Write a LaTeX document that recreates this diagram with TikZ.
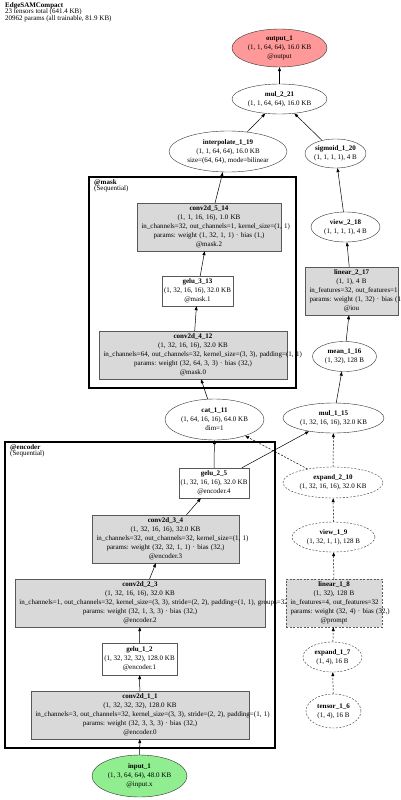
\documentclass[tikz,border=0pt]{standalone}
\usepackage{fontspec}
\setmainfont{Liberation Serif}
\usetikzlibrary{arrows.meta,positioning,shapes.geometric}
\frenchspacing

\definecolor{outred}{RGB}{255,153,153}
\definecolor{ingreen}{RGB}{144,238,144}

% a text line that is wider than its box: starts at the left edge
\newcommand\wideline[1]{\makebox[\hsize][l]{#1}}

\tikzset{
  every node/.style={font=\fontsize{7}{9}\selectfont, align=center},
  layer/.style={rectangle, draw=black!65, fill=black!15, minimum height=48pt, inner xsep=4.5pt, inner ysep=0pt},
  act/.style={rectangle, draw=black!65, fill=white, minimum height=30pt, inner sep=1.5pt},
  op/.style={ellipse, draw=black!80, fill=white, inner sep=0pt},
  aux/.style={dash pattern=on 2pt off 1.5pt},
  module/.style={draw, line width=2.5pt},
  link/.style={-{Triangle[length=4pt,width=3pt]}, line width=0.5pt},
  modlabel/.style={anchor=north west, align=left, inner sep=0pt, font=\fontsize{7}{6.8}\selectfont}
}

\begin{document}
\begin{tikzpicture}[x=1pt,y=-1pt]
\path[use as bounding box, clip] (0,0) rectangle (400,800);

\node[modlabel] (title) at (5,2) {\textbf{EdgeSAMCompact}\\23 tensors total (641.4 KB)\\20962 params (all trainable, 81.9 KB)};

% modules
\draw[module] (89,177) rectangle (296,388);
\node[modlabel] (mask) at (94,179) {\textbf{@mask}\\(Sequential)};
\draw[module] (5,442) rectangle (275,748);
\node[modlabel] (encoder) at (10,444) {\textbf{@encoder}\\(Sequential)};

% head
\node[op, fill=outred, minimum width=95pt, minimum height=38pt] (output_1) at (279.5,48) {\textbf{output\_1}\\(1, 1, 64, 64), 16.0 KB\\@output};
\node[op, minimum width=95pt, minimum height=30pt] (mul_2_21) at (279.5,99) {\textbf{mul\_2\_21}\\(1, 1, 64, 64), 16.0 KB};
\node[op, minimum width=118pt, minimum height=41pt] (interpolate_1_19) at (228,151.5) {\textbf{interpolate\_1\_19}\\(1, 1, 64, 64), 16.0 KB\\size=(64, 64), mode=bilinear};
\node[op, minimum width=61pt, minimum height=29pt] (sigmoid_1_20) at (335.5,153.5) {\textbf{sigmoid\_1\_20}\\(1, 1, 1, 1), 4 B};
\node[op, minimum width=69pt, minimum height=30pt] (view_2_18) at (345.5,227) {\textbf{view\_2\_18}\\(1, 1, 1, 1), 4 B};
\node[layer, text width=84pt] (linear_2_17) at (351.5,291) {\textbf{linear\_2\_17}\\(1, 1), 4 B\\\wideline{in\_features=32, out\_features=1}\\\wideline{params: weight (1, 32) · bias (1,)}\\@iou};
\node[op, minimum width=64pt, minimum height=30pt] (mean_1_16) at (344.5,356.5) {\textbf{mean\_1\_16}\\(1, 32), 128 B};
\node[op, minimum width=101pt, minimum height=30pt] (mul_1_15) at (333.5,418) {\textbf{mul\_1\_15}\\(1, 32, 16, 16), 32.0 KB};

% mask
\node[layer, text width=135pt] (conv2d_5_14) at (209,227) {\textbf{conv2d\_5\_14}\\(1, 1, 16, 16), 1.0 KB\\\wideline{in\_channels=32, out\_channels=1, kernel\_size=(1, 1)}\\params: weight (1, 32, 1, 1) · bias (1,)\\@mask.2};
\node[act, minimum width=71pt] (gelu_3_13) at (197.5,291) {\textbf{gelu\_3\_13}\\(1, 32, 16, 16), 32.0 KB\\@mask.1};
\node[layer, text width=179pt] (conv2d_4_12) at (193,355) {\textbf{conv2d\_4\_12}\\(1, 32, 16, 16), 32.0 KB\\\wideline{in\_channels=64, out\_channels=32, kernel\_size=(3, 3), padding=(1, 1)}\\params: weight (32, 64, 3, 3) · bias (32,)\\@mask.0};
\node[op, minimum width=99pt, minimum height=41pt] (cat_1_11) at (214.5,419.5) {\textbf{cat\_1\_11}\\(1, 64, 16, 16), 64.0 KB\\dim=1};

% encoder
\node[act, minimum width=70pt] (gelu_2_5) at (214,483) {\textbf{gelu\_2\_5}\\(1, 32, 16, 16), 32.0 KB\\@encoder.4};
\node[layer, text width=138pt] (conv2d_3_4) at (165.5,539) {\textbf{conv2d\_3\_4}\\(1, 32, 16, 16), 32.0 KB\\\wideline{in\_channels=32, out\_channels=32, kernel\_size=(1, 1)}\\params: weight (32, 32, 1, 1) · bias (32,)\\@encoder.3};
\node[layer, text width=241pt] (conv2d_2_3) at (140,603) {\textbf{conv2d\_2\_3}\\(1, 32, 16, 16), 32.0 KB\\\wideline{in\_channels=1, out\_channels=32, kernel\_size=(3, 3), stride=(2, 2), padding=(1, 1), groups=32}\\params: weight (32, 1, 3, 3) · bias (32,)\\@encoder.2};
\node[act, minimum width=75pt, minimum height=32pt] (gelu_1_2) at (139.5,659) {\textbf{gelu\_1\_2}\\(1, 32, 32, 32), 128.0 KB\\@encoder.1};
\node[layer, text width=209pt] (conv2d_1_1) at (140,715) {\textbf{conv2d\_1\_1}\\(1, 32, 32, 32), 128.0 KB\\\wideline{in\_channels=3, out\_channels=32, kernel\_size=(3, 3), stride=(2, 2), padding=(1, 1)}\\params: weight (32, 3, 3, 3) · bias (32,)\\@encoder.0};
\node[op, fill=ingreen, minimum width=95pt, minimum height=42pt] (input_1) at (139.5,776) {\textbf{input\_1}\\(1, 3, 64, 64), 48.0 KB\\@input.x};

% prompt branch
\node[op, aux, minimum width=100pt, minimum height=31pt] (expand_2_10) at (333,482.5) {\textbf{expand\_2\_10}\\(1, 32, 16, 16), 32.0 KB};
\node[op, aux, minimum width=83pt, minimum height=30pt] (view_1_9) at (333.5,537) {\textbf{view\_1\_9}\\(1, 32, 1, 1), 128 B};
\node[layer, aux, text width=87pt] (linear_1_8) at (334,603) {\textbf{linear\_1\_8}\\(1, 32), 128 B\\\wideline{in\_features=4, out\_features=32}\\\wideline{params: weight (32, 4) · bias (32,)}\\@prompt};
\node[op, aux, minimum width=59pt, minimum height=30pt] (expand_1_7) at (332.5,657) {\textbf{expand\_1\_7}\\(1, 4), 16 B};
\node[op, aux, minimum width=55pt, minimum height=34pt] (tensor_1_6) at (333.5,711) {\textbf{tensor\_1\_6}\\(1, 4), 16 B};

% edges
\draw[link] (input_1) -- (conv2d_1_1);
\draw[link] (conv2d_1_1) -- (gelu_1_2);
\draw[link] (gelu_1_2) -- (conv2d_2_3);
\draw[link] (conv2d_2_3) -- (conv2d_3_4);
\draw[link] (conv2d_3_4) -- (gelu_2_5);
\draw[link] (gelu_2_5) -- (cat_1_11);
\draw[link] (gelu_2_5) -- (mul_1_15);
\draw[link] (cat_1_11) -- (conv2d_4_12);
\draw[link] (conv2d_4_12) -- (gelu_3_13);
\draw[link] (gelu_3_13) -- (conv2d_5_14);
\draw[link] (conv2d_5_14) -- (interpolate_1_19);
\draw[link] (interpolate_1_19) -- (mul_2_21);
\draw[link] (mul_2_21) -- (output_1);
\draw[link] (mul_1_15) -- (mean_1_16);
\draw[link] (mean_1_16) -- (linear_2_17);
\draw[link] (linear_2_17) -- (view_2_18);
\draw[link] (view_2_18) -- (sigmoid_1_20);
\draw[link] (sigmoid_1_20) -- (mul_2_21);

\draw[link, aux] (tensor_1_6) -- (expand_1_7);
\draw[link, aux] (expand_1_7) -- (linear_1_8);
\draw[link, aux] (linear_1_8) -- (view_1_9);
\draw[link, aux] (view_1_9) -- (expand_2_10);
\draw[link, aux] (expand_2_10) -- (mul_1_15);
\draw[link, aux] (expand_2_10) -- (cat_1_11);
\end{tikzpicture}
\end{document}
